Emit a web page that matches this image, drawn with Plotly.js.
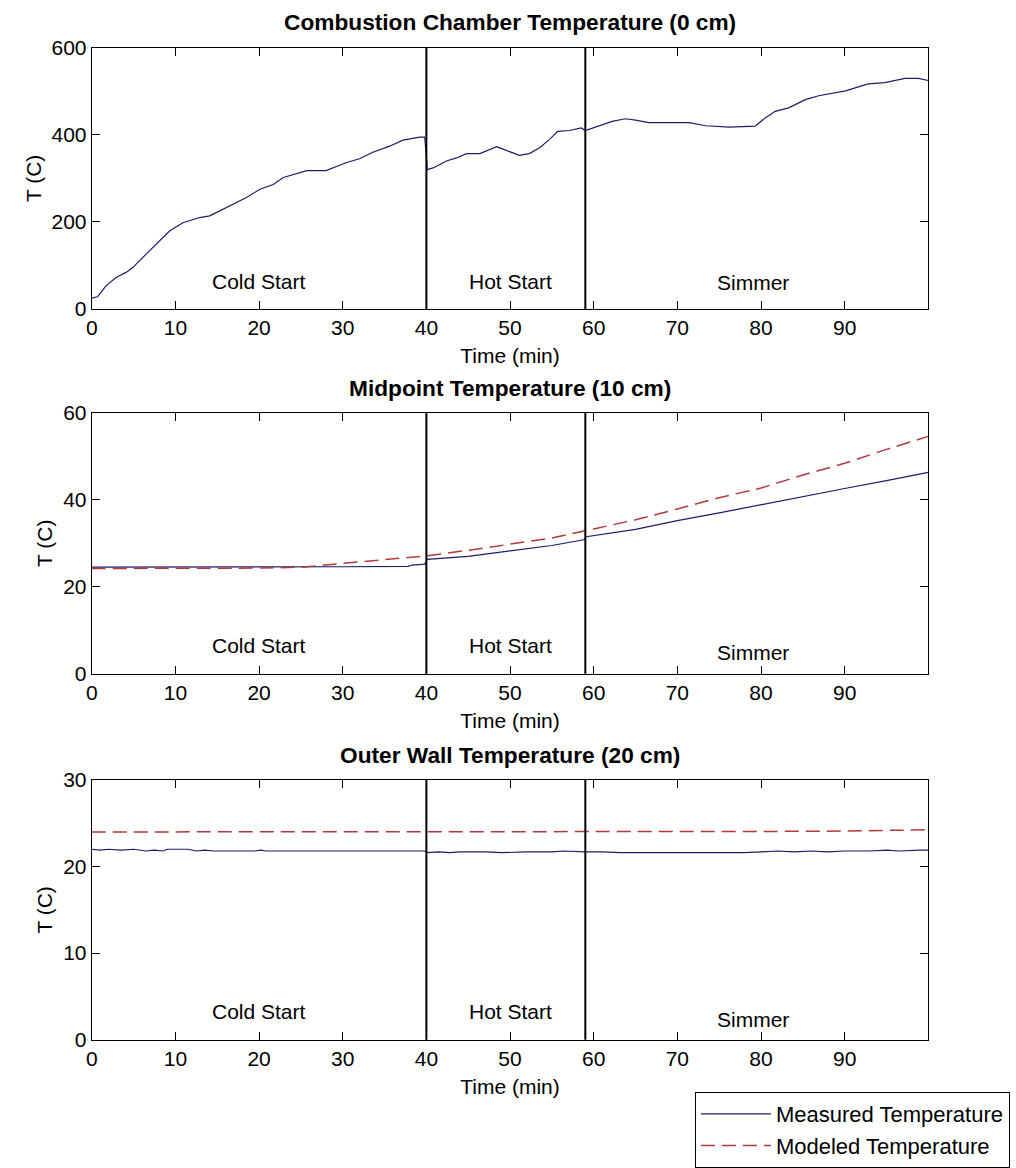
<!DOCTYPE html>
<html><head><meta charset="utf-8">
<script src="https://cdn.plot.ly/plotly-3.0.1.min.js"></script>
<style>html,body{margin:0;padding:0;background:#fff}</style>
</head><body><div id="chart" style="width:1016px;height:1168px"></div>
<script>
// ---------- data ----------
const xTickVals = [0, 10, 20, 30, 40, 50, 60, 70, 80, 90];
const phaseBounds = [40, 59];
const phaseNames = ['Cold Start', 'Hot Start', 'Simmer'];
const phaseLabelX = [20, 50, 79];

const topTime = [0, 0.7, 1.7, 2.9, 4.1, 4.9, 6.5, 7.7, 9.3, 10.9, 12.9, 14.1, 16.1, 18.5, 20.1, 21.7, 22.9, 24.5, 25.7, 28.0, 30.4, 32.0, 33.6, 35.6, 37.2, 39.2, 39.8, 40.0, 40.1, 40.8, 42.4, 43.6, 44.8, 46.4, 47.6, 48.4, 48.8, 49.9, 51.1, 52.3, 53.5, 54.7, 55.7, 57.1, 58.5, 59.0, 60.6, 62.2, 63.8, 65.0, 66.6, 71.4, 73.4, 76.2, 79.3, 80.5, 81.7, 83.3, 85.3, 86.9, 90.1, 92.8, 94.8, 97.2, 98.8, 100];
const topMeasured = [25, 28, 53, 72, 84, 95, 126, 149, 179, 198, 210, 214, 233, 256, 275, 286, 302, 311, 318, 318, 336, 345, 360, 374, 388, 395, 395, 350, 320, 324, 340, 347, 357, 357, 366, 373, 370, 362, 353, 357, 370, 389, 408, 410, 416, 410, 420, 431, 437, 434, 428, 428, 421, 418, 420, 439, 454, 462, 481, 490, 501, 517, 520, 530, 530, 525];

const midTime = [0, 10, 20, 30, 37.8, 38.3, 39.8, 40.1, 45, 50, 55, 58.8, 59.1, 65, 70, 75, 80, 85, 90, 95, 100];
const midMeasured = [24.5, 24.5, 24.5, 24.6, 24.7, 25.0, 25.2, 26.3, 27.0, 28.3, 29.5, 30.8, 31.5, 33.2, 35.2, 37.0, 38.9, 40.7, 42.6, 44.4, 46.3];
const midModeledTime = [0, 10, 20, 25, 30, 35, 40, 45, 50, 55, 60, 65, 70, 75, 80, 85, 90, 95, 100];
const midModeled = [24.2, 24.2, 24.3, 24.5, 25.4, 26.3, 27.1, 28.4, 29.8, 31.2, 33.3, 35.4, 37.9, 40.5, 42.7, 45.7, 48.4, 51.6, 54.6];

const outTime = [0, 1, 2, 3.5, 5, 6.5, 7.5, 8.5, 9, 11.5, 12.5, 13.5, 14.5, 19.5, 20.2, 20.8, 30, 39.8, 40.2, 41.5, 42.8, 44, 47, 49, 52, 55, 56.5, 58, 59, 61, 62.5, 63.2, 70, 78, 80, 82, 84, 86, 88, 90, 93, 95, 96.5, 98, 99, 100];
const outMeasured = [22.0, 21.9, 22.0, 21.9, 22.0, 21.8, 21.9, 21.8, 22.0, 22.0, 21.8, 21.9, 21.8, 21.8, 21.9, 21.8, 21.8, 21.8, 21.6, 21.7, 21.6, 21.7, 21.7, 21.6, 21.7, 21.7, 21.8, 21.7, 21.7, 21.7, 21.6, 21.6, 21.6, 21.6, 21.7, 21.8, 21.7, 21.8, 21.7, 21.8, 21.8, 21.9, 21.8, 21.9, 21.9, 21.9];
const outModeledTime = [0, 20, 40, 60, 80, 90, 95, 100];
const outModeled = [24.0, 24.0, 24.0, 24.0, 24.05, 24.1, 24.2, 24.25];

const panelTitles = ['Combustion Chamber Temperature (0 cm)', 'Midpoint Temperature (10 cm)', 'Outer Wall Temperature (20 cm)'];

// ---------- styling ----------
const FONT = 'Liberation Sans, Arial, sans-serif';
const MEAS_COLOR = '#1c1c6b';
const MOD_COLOR = '#b23a3a';
const measLine = {color: MEAS_COLOR, width: 1.2};
const modLine = {color: MOD_COLOR, width: 1.5, dash: '14px,7px'};

const traces = [
  {x: topTime, y: topMeasured, xaxis: 'x', yaxis: 'y', mode: 'lines', line: measLine, showlegend: false, name: 'Measured Temperature'},
  {x: midTime, y: midMeasured, xaxis: 'x2', yaxis: 'y2', mode: 'lines', line: measLine, showlegend: false, name: 'Measured Temperature'},
  {x: midModeledTime, y: midModeled, xaxis: 'x2', yaxis: 'y2', mode: 'lines', line: modLine, showlegend: false, name: 'Modeled Temperature'},
  {x: outTime, y: outMeasured, xaxis: 'x3', yaxis: 'y3', mode: 'lines', line: measLine, showlegend: true, name: 'Measured Temperature'},
  {x: outModeledTime, y: outModeled, xaxis: 'x3', yaxis: 'y3', mode: 'lines', line: modLine, showlegend: true, name: 'Modeled Temperature'}
];

const axisBase = {
  showline: true, linecolor: '#000', linewidth: 1, mirror: 'ticks',
  ticks: 'inside', ticklen: 8, tickcolor: '#000', tickwidth: 1,
  showgrid: false, zeroline: false, automargin: false, fixedrange: true,
  tickfont: {family: FONT, size: 21, color: '#000'}
};
const xDomain = [0.0903, 0.9137];
function xAxis(anchor) {
  return Object.assign({}, axisBase, {
    domain: xDomain, anchor: anchor, range: [0, 100], tickvals: xTickVals,
    ticktext: xTickVals.map(String),
    title: {text: 'Time (min)', font: {family: FONT, size: 21, color: '#000'}, standoff: 10}
  });
}
function yAxis(anchor, dom, range, dtick) {
  return Object.assign({}, axisBase, {
    domain: dom, anchor: anchor, range: range, dtick: dtick, tick0: 0,
    title: {text: 'T (C)', font: {family: FONT, size: 21, color: '#000'}, standoff: 4}
  });
}

const shapes = [];
const annotations = [];
const axisIds = ['', '2', '3'];
const labelY = [[64, 64, 60], [6.5, 6.5, 4.8], [3.2, 3.2, 2.3]];
const titleY = [0.9808, 0.6666, 0.3515];
axisIds.forEach((id, i) => {
  phaseBounds.forEach(b => shapes.push({
    type: 'line', xref: 'x' + id, yref: 'y' + id + ' domain',
    x0: b, x1: b, y0: 0, y1: 1, line: {color: '#000', width: 2}
  }));
  phaseNames.forEach((name, j) => annotations.push({
    text: name, xref: 'x' + id, yref: 'y' + id, x: phaseLabelX[j], y: labelY[i][j],
    showarrow: false, font: {family: FONT, size: 21, color: '#000'}
  }));
  annotations.push({
    text: '<b>' + panelTitles[i] + '</b>', xref: 'paper', yref: 'paper',
    x: (xDomain[0] + xDomain[1]) / 2, y: titleY[i], xanchor: 'center', yanchor: 'middle',
    showarrow: false, font: {family: FONT, size: 22.7, color: '#000'}
  });
});

const layout = {
  width: 1016, height: 1168,
  margin: {l: 0, r: 0, t: 0, b: 0, pad: 0},
  paper_bgcolor: '#fff', plot_bgcolor: '#fff',
  font: {family: FONT, size: 21, color: '#000'},
  xaxis: xAxis('y'), xaxis2: xAxis('y2'), xaxis3: xAxis('y3'),
  yaxis: yAxis('x', [0.7346, 0.9589], [0, 600], 200),
  yaxis2: yAxis('x2', [0.4212, 0.6453], [0, 60], 20),
  yaxis3: yAxis('x3', [0.1068, 0.3299], [0, 30], 10),
  shapes: shapes, annotations: annotations,
  showlegend: true,
  legend: {
    x: 0.684, y: 0.0616, xanchor: 'left', yanchor: 'top',
    bgcolor: '#fff', bordercolor: '#000', borderwidth: 1, itemwidth: 70,
    font: {family: FONT, size: 22, color: '#000'}, tracegroupgap: 0
  }
};

Plotly.newPlot('chart', traces, layout, {displayModeBar: false, staticPlot: true});
</script></body></html>
